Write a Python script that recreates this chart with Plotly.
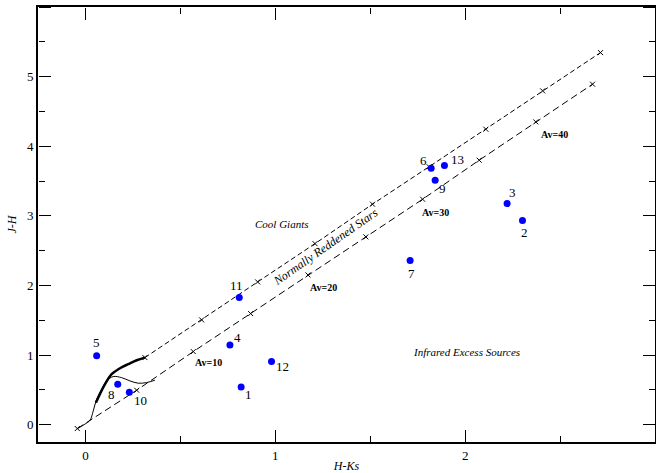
import plotly.graph_objects as go

# ---- data ----
src_id = ["1", "2", "3", "4", "5", "6", "7", "8", "9", "10", "11", "12", "13"]
src_hk = [0.820, 2.302, 2.221, 0.761, 0.059, 1.821, 1.710, 0.170, 1.842, 0.231, 0.810, 0.980, 1.891]
src_jh = [0.542, 2.931, 3.175, 1.145, 0.991, 3.684, 2.356, 0.580, 3.511, 0.465, 1.825, 0.905, 3.721]

# reddening vector from giant branch tip (Av = 0, 5, ..., 40)
upper_hk = [0.313, 0.612, 0.907, 1.209, 1.512, 1.810, 2.109, 2.408, 2.713]
upper_jh = [0.963, 1.504, 2.050, 2.600, 3.167, 3.705, 4.244, 4.795, 5.345]
# reddening vector from dwarf origin (Av = 0, 5, ..., 45)
lower_hk = [-0.043, 0.270, 0.568, 0.870, 1.172, 1.477, 1.776, 2.074, 2.372, 2.671]
lower_jh = [-0.057, 0.494, 1.049, 1.595, 2.150, 2.697, 3.238, 3.799, 4.349, 4.891]

# giant branch (thick) and dwarf locus (thin)
giant_hk = [0.055, 0.076, 0.103, 0.138, 0.182, 0.225, 0.270, 0.313]
giant_jh = [0.316, 0.437, 0.580, 0.724, 0.810, 0.868, 0.925, 0.963]
dwarf_hk = [-0.043, -0.003, 0.024, 0.041, 0.059, 0.085, 0.112, 0.146, 0.190, 0.234, 0.278, 0.322, 0.366]
dwarf_jh = [-0.057, 0.006, 0.063, 0.197, 0.365, 0.509, 0.628, 0.690, 0.675, 0.628, 0.595, 0.604, 0.638]

av_labels = ["Av=10", "Av=20", "Av=30", "Av=40"]
av_hk = [0.647, 1.254, 1.846, 2.472]
av_jh = [0.889, 1.968, 3.042, 4.172]

region_labels = ["Cool Giants", "Infrared Excess Sources"]
region_hk = [1.033, 2.007]
region_jh = [2.888, 1.049]

x_range = [-0.25, 3.0]
y_range = [-0.25, 6.0]

# pixel offsets of number labels (style)
label_shift = {
    "1": (7, -8), "2": (2, -12), "3": (5, 11), "4": (8, 7), "5": (0, 13),
    "6": (-8, 8), "7": (1, -13), "8": (-6, -10), "9": (7, -8), "10": (11, -8),
    "11": (-3, 12), "12": (11, -5), "13": (13, 6),
}

SERIF = "Liberation Serif"

fig = go.Figure()

fig.add_trace(go.Scatter(x=upper_hk, y=upper_jh, mode="lines+markers",
                         line=dict(color="black", width=1, dash="5px,3px"),
                         marker=dict(symbol="x-thin", size=5, line=dict(color="black", width=1)),
                         showlegend=False, hoverinfo="skip"))
fig.add_trace(go.Scatter(x=lower_hk, y=lower_jh, mode="lines+markers",
                         line=dict(color="black", width=1, dash="7px,4px"),
                         marker=dict(symbol="x-thin", size=5, line=dict(color="black", width=1)),
                         showlegend=False, hoverinfo="skip"))
fig.add_trace(go.Scatter(x=dwarf_hk, y=dwarf_jh, mode="lines",
                         line=dict(color="black", width=1, shape="spline"),
                         showlegend=False, hoverinfo="skip"))
fig.add_trace(go.Scatter(x=giant_hk, y=giant_jh, mode="lines",
                         line=dict(color="black", width=2.5, shape="spline"),
                         showlegend=False, hoverinfo="skip"))
fig.add_trace(go.Scatter(x=src_hk, y=src_jh, mode="markers",
                         marker=dict(color="#0000ff", size=7),
                         showlegend=False))

# invisible copies so that the helper tick axes get their own subplots drawn
for xa, ya in (("x2", "y2"), ("x3", "y3")):
    fig.add_trace(go.Scatter(x=src_hk, y=src_jh, mode="markers", xaxis=xa, yaxis=ya,
                             marker=dict(opacity=0, size=1), showlegend=False,
                             hoverinfo="skip"))

for sid, x, y in zip(src_id, src_hk, src_jh):
    dx, dy = label_shift[sid]
    fig.add_annotation(x=x, y=y, text=sid, showarrow=False, xshift=dx, yshift=dy,
                       font=dict(family=SERIF, size=13, color="black"))

for t, x, y in zip(av_labels, av_hk, av_jh):
    fig.add_annotation(x=x, y=y, text="<b>" + t + "</b>", showarrow=False,
                       font=dict(family=SERIF, size=10, color="black"))

for t, x, y in zip(region_labels, region_hk, region_jh):
    fig.add_annotation(x=x, y=y, text="<i>" + t + "</i>", showarrow=False,
                       font=dict(family=SERIF, size=11, color="black"))

fig.add_annotation(x=1.262, y=2.555, text="<i>Normally Reddened Stars</i>", showarrow=False,
                   textangle=-35, font=dict(family=SERIF, size=12, color="black"))

tickfont = dict(family=SERIF, size=13, color="black")
ticks_style = dict(ticks="outside", ticklen=12, tickwidth=1, tickcolor="black",
                   tickmode="linear", tick0=0, dtick=1, showticklabels=False,
                   showgrid=False, zeroline=False, showline=False,
                   minor=dict(ticks="outside", ticklen=6, tickwidth=1,
                              tickcolor="black", tick0=0, dtick=0.5, showgrid=False))

fig.update_layout(
    width=656, height=473, margin=dict(l=38, r=1, t=7, b=31),
    plot_bgcolor="white", paper_bgcolor="white", template="none",
    xaxis=dict(range=x_range, showgrid=False, zeroline=False, showline=True,
               linecolor="black", linewidth=2, mirror=True, ticks="",
               tickmode="linear", tick0=0, dtick=1, tickfont=tickfont,
               title=dict(text="<i>H-Ks</i>", standoff=3,
                          font=dict(family=SERIF, size=12, color="black"))),
    yaxis=dict(range=y_range, showgrid=False, zeroline=False, showline=True,
               linecolor="black", linewidth=2, mirror=True, ticks="",
               tickmode="linear", tick0=0, dtick=1, tickfont=tickfont,
               title=dict(text="<i>J-H</i>", standoff=8,
                          font=dict(family=SERIF, size=12, color="black"))),
    # helper axes that draw the inward-pointing tick marks on all four sides
    xaxis2=dict(range=x_range, overlaying="x", side="top", anchor="free", position=0, **ticks_style),
    xaxis3=dict(range=x_range, overlaying="x", side="bottom", anchor="free", position=1, **ticks_style),
    yaxis2=dict(range=y_range, overlaying="y", side="right", anchor="free", position=0, **ticks_style),
    yaxis3=dict(range=y_range, overlaying="y", side="left", anchor="free", position=1, **ticks_style),
)

fig.write_html("out.html")
